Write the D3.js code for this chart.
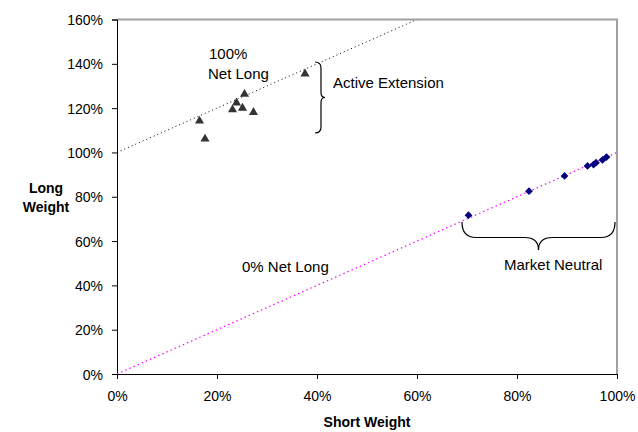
<!DOCTYPE html>
<html><head><meta charset="utf-8">
<script src="https://cdn.jsdelivr.net/npm/d3@7"></script>
<style>body{margin:0;background:#fff}svg{display:block;font-family:Arial,"Liberation Sans",sans-serif}</style>
</head><body>
<script>
// Data
const extShort = [0.376, 0.255, 0.239, 0.231, 0.251, 0.273, 0.165, 0.176];
const extLong  = [1.355, 1.263, 1.224, 1.193, 1.200, 1.181, 1.142, 1.061];
const mnShort = [0.703, 0.824, 0.895, 0.941, 0.953, 0.958, 0.971, 0.979];
const mnLong  = [0.717, 0.825, 0.894, 0.939, 0.945, 0.954, 0.966, 0.979];
const xTicks = [0, 0.2, 0.4, 0.6, 0.8, 1.0];
const yTicks = [0, 0.2, 0.4, 0.6, 0.8, 1.0, 1.2, 1.4, 1.6];
const line100 = [[0, 1.0], [0.6, 1.6]];
const line0 = [[0, 0], [1.0, 1.0]];

const W = 638, H = 432;
const m = {l:117, r:21, t:19.5, b:58};
const svg = d3.select("body").append("svg").attr("width", W).attr("height", H);
const x = d3.scaleLinear().domain([0, 1]).range([m.l, W - m.r]);
const y = d3.scaleLinear().domain([0, 1.6]).range([H - m.b, m.t]);
const fmt = d => Math.round(d * 100) + "%";

// plot border (grey top/right)
svg.append("path").attr("d", `M${x(0)},${y(1.6)}H${x(1)}V${y(0)}`)
  .attr("fill", "none").attr("stroke", "#a0a0a0").attr("stroke-width", 2);

// axes
const xAxis = svg.append("g").attr("transform", `translate(0,${y(0)})`)
  .call(d3.axisBottom(x).tickValues(xTicks).tickFormat(fmt).tickSize(5).tickPadding(12));
const yAxis = svg.append("g").attr("transform", `translate(${x(0)},0)`)
  .call(d3.axisLeft(y).tickValues(yTicks).tickFormat(fmt).tickSize(5).tickPadding(9));
[xAxis, yAxis].forEach(g => {
  g.selectAll("text").attr("font-size", 14).attr("fill", "#000").attr("font-family", "Arial, 'Liberation Sans', sans-serif");
  g.selectAll("line,path").attr("stroke", "#000");
});
yAxis.selectAll("text").attr("dy", "0.36em");

// reference lines
const ln = d3.line().x(d => x(d[0])).y(d => y(d[1]));
svg.append("path").attr("d", ln(line100)).attr("fill", "none").attr("stroke", "#000")
  .attr("stroke-width", 1).attr("stroke-dasharray", "1,3");
svg.append("path").attr("d", ln(line0)).attr("fill", "none").attr("stroke", "#ff00ff")
  .attr("stroke-width", 1.2).attr("stroke-dasharray", "1.5,3");

// markers
svg.append("g").selectAll("path").data(extShort).join("path")
  .attr("d", d3.symbol(d3.symbolTriangle, 36)())
  .attr("transform", (d, i) => `translate(${x(d)},${y(extLong[i])})`)
  .attr("fill", "#333");
svg.append("g").selectAll("path").data(mnShort).join("path")
  .attr("d", d3.symbol(d3.symbolSquare, 30)())
  .attr("transform", (d, i) => `translate(${x(d)},${y(mnLong[i])}) rotate(45)`)
  .attr("fill", "#000080");

// annotations
const txt = (t, px, py, opts = {}) => svg.append("text").attr("x", px).attr("y", py)
  .attr("font-size", opts.size || 15).attr("font-weight", opts.bold ? "bold" : null)
  .attr("text-anchor", opts.anchor || "start").attr("fill", "#000").text(t);
txt("100%", 209, 59);
txt("Net Long", 208, 79);
txt("Active Extension", 333, 88);
txt("0% Net Long", 242, 272);
txt("Market Neutral", 504, 270);
txt("Short Weight", x(0.5), 427, {bold: true, anchor: "middle", size: 14});
txt("Long", 46, 193, {bold: true, anchor: "middle", size: 14});
txt("Weight", 46, 212, {bold: true, anchor: "middle", size: 14});

// braces
const vb = {x: 321, top: 62, bot: 133, mid: 97.5};
svg.append("path").attr("fill", "none").attr("stroke", "#000").attr("stroke-width", 1.2)
  .attr("d", `M${vb.x-6},${vb.top} Q${vb.x},${vb.top} ${vb.x},${vb.top+6} L${vb.x},${vb.mid-5} Q${vb.x},${vb.mid} ${vb.x+4},${vb.mid} Q${vb.x},${vb.mid} ${vb.x},${vb.mid+5} L${vb.x},${vb.bot-6} Q${vb.x},${vb.bot} ${vb.x-6},${vb.bot}`);
const hb = {y: 237.5, l: 462, r: 615, mid: 538.5, top: 222, tip: 250};
svg.append("path").attr("fill", "none").attr("stroke", "#000").attr("stroke-width", 1.2)
  .attr("d", `M${hb.l},${hb.top} Q${hb.l},${hb.y} ${hb.l+14},${hb.y} L${hb.mid-14},${hb.y} Q${hb.mid},${hb.y} ${hb.mid},${hb.tip} Q${hb.mid},${hb.y} ${hb.mid+14},${hb.y} L${hb.r-14},${hb.y} Q${hb.r},${hb.y} ${hb.r},${hb.top}`);
</script>
</body></html>
